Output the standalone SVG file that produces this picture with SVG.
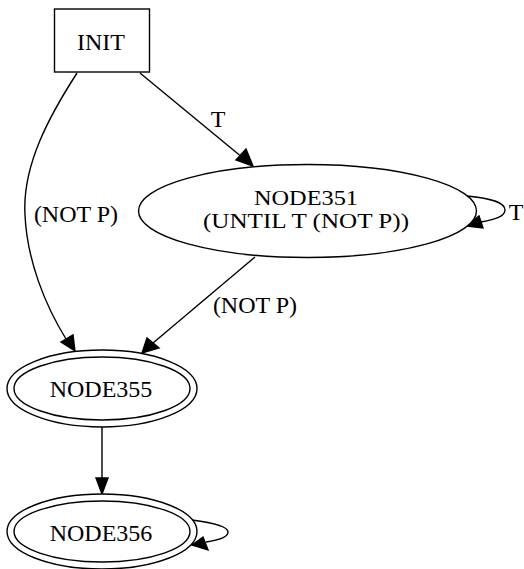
<svg xmlns="http://www.w3.org/2000/svg" width="524" height="569" viewBox="0 0 524 569">
<style>
.s{fill:none;stroke:#000;stroke-width:1.4}
.n{fill:#fff;stroke:#000;stroke-width:1.4}
.a{fill:#000;stroke:#000;stroke-width:1.4}
text{font-family:"Liberation Serif","Times New Roman",serif;font-size:24px;fill:#000;text-anchor:middle}
.m{font-size:22px}
</style>
<rect width="524" height="569" fill="#fff"/>
<g id="edges">
<path class="s" d="M140,73 L243,158"/>
<polygon class="a" points="253,166 236,160 246,149"/>
<text x="218" y="127">T</text>
<path class="s" d="M77,73 C50,115 22,165 25,215 C27,260 45,305 66,339"/>
<polygon class="a" points="75,351 61,342 73,335"/>
<text x="76" y="222">(NOT P)</text>
<path class="s" d="M255,257 L153,343"/>
<polygon class="a" points="142,353 147,338 159,348"/>
<text x="255" y="313">(NOT P)</text>
<path class="s" d="M102,427 L102,479"/>
<polygon class="a" points="102,494 96,478 108,478"/>
<path class="s" d="M467,196 C490,198 505,203 505,210 C505,216 497,219 481,222"/>
<polygon class="a" points="466,226 479,216 483,228"/>
<text x="516" y="220">T</text>
<path class="s" d="M192,520 C215,523 228,527 228,532 C228,537 220,540 206,542"/>
<polygon class="a" points="192,545 203,537 208,550"/>
</g>
<g id="INIT">
<rect class="n" x="54.5" y="9" width="95" height="63"/>
<text x="101" y="50">INIT</text>
</g>
<g id="NODE351">
<ellipse class="n" cx="307.5" cy="211" rx="169" ry="46.5"/>
<text class="m" x="306" y="205" textLength="104" lengthAdjust="spacingAndGlyphs">NODE351</text>
<text class="m" x="306" y="228" textLength="206" lengthAdjust="spacingAndGlyphs">(UNTIL T (NOT P))</text>
</g>
<g id="NODE355">
<ellipse class="n" cx="102" cy="388.5" rx="95" ry="38.5"/>
<ellipse class="s" cx="102" cy="388.5" rx="88" ry="31.5"/>
<text x="101" y="397">NODE355</text>
</g>
<g id="NODE356">
<ellipse class="n" cx="102" cy="531.5" rx="95" ry="37.5"/>
<ellipse class="s" cx="102" cy="531.5" rx="88" ry="30.5"/>
<text x="101" y="541">NODE356</text>
</g>
</svg>
